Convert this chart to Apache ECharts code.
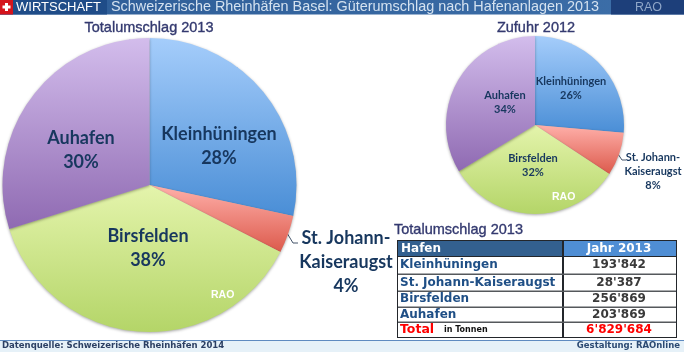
<!DOCTYPE html>
<html>
<head>
<meta charset="utf-8">
<title>Rheinhäfen Basel</title>
<style>
html,body{margin:0;padding:0;background:#fff}
#main{width:684px;height:352px}
</style>
<script src="https://cdn.jsdelivr.net/npm/echarts@6/dist/echarts.min.js"></script>
</head>
<body>
<div id="main"></div>
<script>
var hafen = ['Kleinhüningen', 'St. Johann-\nKaiseraugst', 'Birsfelden', 'Auhafen']
var tabelleHafen = ['Kleinhüningen', 'St. Johann-Kaiseraugst', 'Birsfelden', 'Auhafen']
var umschlag2013 = [193842, 28387, 256869, 203869]
var zufuhr2012 = [26.4, 7.9, 32, 33.7]
var tabelleWerte = ["193'842", "28'387", "256'869", "203'869"]
var totalWert = "6'829'684"

var farben = [
	['#a5cdfb', '#4a8ed6'],
	['#ffb0aa', '#dc5a4c'],
	['#e4f4ac', '#b4d568'],
	['#d3bdec', '#8f6ab2']
]
var titelFarbe = '#33396f'
var labelFarbe = '#17375e'

function sliceData(values) {
	return values.map(function (v, i) {
		return {
			name: hafen[i],
			value: v,
			itemStyle: {
				color: {
					type: 'linear', x: 0, y: 0, x2: 0, y2: 1,
					colorStops: [{ offset: 0, color: farben[i][0] }, { offset: 1, color: farben[i][1] }]
				}
			}
		}
	})
}

function pie(values, center, radius, fontSize, lineHeight, layouts, lineLen) {
	var data = sliceData(values)
	data[1].label = { position: 'outside', overflow: 'none', color: labelFarbe }
	data[1].labelLine = { show: true, length: lineLen, length2: 3, lineStyle: { color: '#44546a', width: 1 } }
	return {
		type: 'pie',
		center: center,
		radius: [0, radius],
		startAngle: 90,
		clockwise: true,
		silent: true,
		animation: false,
		percentPrecision: 0,
		itemStyle: { shadowBlur: 3, shadowColor: 'rgba(0,0,0,0.35)', shadowOffsetY: 1 },
		label: {
			show: true,
			position: 'inside',
			formatter: '{b}\n{d}%',
			fontFamily: 'Lato',
			fontWeight: 'bold',
			fontSize: fontSize,
			lineHeight: lineHeight,
			color: labelFarbe,
			align: 'center'
		},
		labelLayout: function (p) {
			return layouts[p.dataIndex]
		},
		data: data
	}
}

function txt(x, y, s, font, fill, align, dicke) {
	return {
		type: 'text', silent: true, z: 20,
		style: {
			x: x, y: y, text: s, font: font, fill: fill, align: align || 'left', verticalAlign: 'middle',
			stroke: dicke ? fill : null, lineWidth: dicke || 0
		}
	}
}
function box(x, y, w, h, fill) {
	return { type: 'rect', silent: true, z: 10, shape: { x: x, y: y, width: w, height: h }, style: { fill: fill } }
}

var tabFont = 'bold 12px "DejaVu Sans"'
var titelFont = '14.5px "Liberation Sans"'
var zeilenY = [265, 282.5, 299, 314.5]
var linienY = [274, 291, 307, 322]

var elemente = [
	// kopfzeile
	box(0, 0, 684, 14.5, {
		type: 'linear', x: 0, y: 0, x2: 1, y2: 0,
		colorStops: [{ offset: 0, color: '#2d5c96' }, { offset: 1, color: '#3d6fa9' }]
	}),
	box(0, 0, 107, 14.5, '#1f4c88'),
	box(0, 0, 13, 14.5, '#d4141c'),
	box(5, 3, 3, 8, '#fff'),
	box(2.5, 5.5, 8, 3, '#fff'),
	box(611, 0, 73, 14.5, '#1d3f7a'),
	txt(16, 7.5, 'WIRTSCHAFT', '13px "Liberation Sans"', '#fff'),
	txt(111, 7.5, 'Schweizerische Rheinhäfen Basel: Güterumschlag nach Hafenanlagen 2013', '14.4px "Liberation Sans"', '#d4e2f0'),
	txt(635, 7.5, 'RAO', '12.5px "Liberation Sans"', '#8fa6c8'),
	// titel
	txt(149, 28, 'Totalumschlag 2013', titelFont, titelFarbe, 'center', 0.35),
	txt(536, 28, 'Zufuhr 2012', titelFont, titelFarbe, 'center', 0.35),
	txt(394, 230, 'Totalumschlag 2013', titelFont, titelFarbe, 'left', 0.35),
	// wasserzeichen
	txt(211, 295, 'RAO', 'bold 10.5px "Liberation Sans"', '#fff'),
	txt(552, 197, 'RAO', 'bold 10.5px "Liberation Sans"', '#fff'),
	// tabelle
	box(397, 240, 280, 98, '#23262b'),
	box(398, 241, 164, 15, '#33608f'),
	box(564, 241, 112, 15, '#4f8ed4'),
	box(398, 257, 164, 80, '#fff'),
	box(564, 257, 112, 80, '#fff'),
	txt(401, 248.5, 'Hafen', tabFont, '#fff'),
	txt(619, 248.5, 'Jahr 2013', tabFont, '#fff', 'center'),
	txt(400, 329.5, 'Total', 'bold 12.5px "DejaVu Sans"', '#f00'),
	txt(444, 330, 'in Tonnen', 'bold 8px "DejaVu Sans"', '#111'),
	txt(619, 329.5, totalWert, tabFont, '#f00', 'center'),
	// fusszeile
	box(0, 340, 684, 12, '#e6f1f8'),
	box(0, 340, 684, 1, '#5f8bc0'),
	txt(2, 346, 'Datenquelle: Schweizerische Rheinhäfen 2014', 'bold 8.5px "DejaVu Sans"', '#2b3f63'),
	txt(680, 346, 'Gestaltung: RAOnline', 'bold 8.5px "DejaVu Sans"', '#2b4a73', 'right')
]

linienY.forEach(function (y) {
	elemente.push(box(398, y - 0.5, 278, 1.5, '#55585c'))
})
tabelleHafen.forEach(function (name, i) {
	elemente.push(txt(400, zeilenY[i], name, tabFont, '#1f4f86'))
	elemente.push(txt(619, zeilenY[i], tabelleWerte[i], tabFont, '#3a3a3a', 'center'))
})

var chart = echarts.init(document.getElementById('main'), null, { renderer: 'canvas' })
chart.setOption({
	animation: false,
	backgroundColor: '#fff',
	graphic: { elements: elemente },
	series: [
		pie(umschlag2013, [149.5, 185], 147, 18, 24, [
			{ x: 219, y: 146, align: 'center', verticalAlign: 'middle' },
			{ x: 346, y: 262, align: 'center', verticalAlign: 'middle', labelLinePoints: [[287, 233], [293, 243], [298, 243]] },
			{ x: 148, y: 248, align: 'center', verticalAlign: 'middle' },
			{ x: 81, y: 150, align: 'center', verticalAlign: 'middle' }
		], 5),
		pie(zufuhr2012, [535, 125], 89, 11, 14, [
			{ x: 571, y: 88, align: 'center', verticalAlign: 'middle' },
			{ x: 653, y: 171, align: 'center', verticalAlign: 'middle', labelLinePoints: [[618, 154], [622, 160], [626, 160]] },
			{ x: 533, y: 165, align: 'center', verticalAlign: 'middle' },
			{ x: 505, y: 102, align: 'center', verticalAlign: 'middle' }
		], 4)
	]
})
</script>
</body>
</html>
